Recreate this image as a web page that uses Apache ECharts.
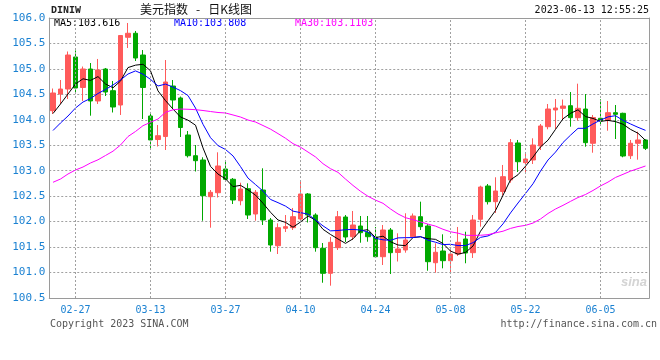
<!DOCTYPE html>
<html><head><meta charset="utf-8">
<script src="https://cdn.jsdelivr.net/npm/echarts@6/dist/echarts.min.js"></script>
<style>html,body{margin:0;padding:0;background:#fff}#c{width:660px;height:360px}</style>
</head><body><div id="c"></div>
<script>
const dates = ['2023-02-22','2023-02-23','2023-02-24','2023-02-27','2023-02-28','2023-03-01','2023-03-02','2023-03-03',
'2023-03-06','2023-03-07','2023-03-08','2023-03-09','2023-03-10','2023-03-13','2023-03-14','2023-03-15','2023-03-16','2023-03-17',
'2023-03-20','2023-03-21','2023-03-22','2023-03-23','2023-03-24','2023-03-27','2023-03-28','2023-03-29','2023-03-30','2023-03-31',
'2023-04-03','2023-04-04','2023-04-05','2023-04-06','2023-04-07','2023-04-10','2023-04-11','2023-04-12','2023-04-13','2023-04-14',
'2023-04-17','2023-04-18','2023-04-19','2023-04-20','2023-04-21','2023-04-24','2023-04-25','2023-04-26','2023-04-27','2023-04-28',
'2023-05-01','2023-05-02','2023-05-03','2023-05-04','2023-05-05','2023-05-08','2023-05-09','2023-05-10','2023-05-11','2023-05-12',
'2023-05-15','2023-05-16','2023-05-17','2023-05-18','2023-05-19','2023-05-22','2023-05-23','2023-05-24','2023-05-25','2023-05-26',
'2023-05-29','2023-05-30','2023-05-31','2023-06-01','2023-06-02','2023-06-05','2023-06-06','2023-06-07','2023-06-08','2023-06-09',
'2023-06-12','2023-06-13'];

const xTickLabels = ['02-27','03-13','03-27','04-10','04-24','05-08','05-22','06-05'];

const openVals = [104.179,104.507,104.605,105.234,104.635,104.998,104.37,104.998,104.572,104.291,
105.621,105.7,105.273,104.075,103.613,103.672,104.664,104.429,103.702,103.295,
103.211,102.49,102.568,103.034,102.832,102.411,102.647,102.15,102.621,102.032,
101.527,101.869,101.881,102.052,102.543,102.13,101.476,100.985,101.488,102.091,
101.704,101.914,101.787,101.698,101.311,101.836,101.394,101.443,101.704,102.097,
101.914,101.193,101.423,101.233,101.364,101.659,101.39,102.046,102.7,102.392,
102.592,102.818,103.545,103.158,103.211,103.486,103.865,104.193,104.226,104.277,
104.042,104.212,103.539,104.03,103.987,104.14,104.128,103.295,103.539,103.604];

const closeVals = [104.527,104.605,105.273,104.625,104.998,104.37,104.979,104.546,104.252,105.656,
105.7,105.214,104.635,103.604,103.688,104.743,104.389,103.849,103.295,103.197,
102.51,102.576,103.093,102.832,102.425,102.641,102.13,102.576,102.032,101.541,
101.881,101.901,102.097,102.543,102.13,101.488,100.985,101.594,102.097,101.698,
101.934,101.783,101.704,101.311,101.836,101.39,101.463,101.639,102.111,101.901,
101.213,101.398,101.233,101.364,101.594,101.384,102.032,102.68,102.392,102.602,
102.883,103.551,103.177,103.23,103.505,103.879,104.212,104.232,104.271,104.042,
104.226,103.551,104.046,103.983,104.14,104.108,103.289,103.539,103.604,103.44];

const lowVals = [104.114,104.311,104.409,104.527,104.37,104.081,104.311,104.468,104.144,104.095,
105.411,105.155,104.016,103.446,103.476,103.407,104.212,103.663,103.26,102.985,
102.018,101.881,102.474,102.798,102.346,102.321,102.052,102.018,101.934,101.41,
101.364,101.796,101.836,102.032,101.983,101.41,100.8,100.742,101.443,101.6,
101.639,101.586,101.606,101.286,101.148,100.971,101.217,101.39,101.698,101.836,
101.036,100.997,101.083,100.997,101.325,101.182,101.286,101.901,102.337,102.17,
102.51,102.765,102.975,102.955,103.132,103.407,103.814,103.82,104.016,103.865,
103.983,103.472,103.354,103.888,103.786,103.623,103.264,103.23,103.217,103.407];

const highVals = [104.615,104.782,105.342,105.362,105.047,105.116,105.195,105.018,104.763,105.666,
105.902,105.745,105.371,104.154,103.898,105.175,104.782,104.458,103.78,103.505,
103.264,102.621,103.362,103.211,102.857,102.765,102.753,102.621,103.048,102.071,
101.967,102.13,102.268,102.804,102.562,102.164,101.58,101.698,102.209,102.13,
102.209,102.111,102.111,101.895,101.934,101.875,101.771,102.164,102.16,102.392,
101.954,101.574,101.751,101.443,101.895,101.802,102.13,102.706,102.739,102.871,
103.113,103.623,103.604,103.362,103.637,103.918,104.311,104.409,104.399,104.546,
104.71,104.507,104.095,104.403,104.37,104.291,104.14,103.604,103.767,103.617];

const ma5 = [104.124,104.311,104.507,104.704,104.806,104.774,104.849,104.704,104.629,104.761,
105.026,105.074,105.091,104.962,104.568,104.377,104.212,104.055,103.993,103.895,
103.448,103.085,102.934,102.841,102.687,102.713,102.624,102.521,102.361,102.184,
102.032,101.986,101.89,101.993,102.11,102.032,101.849,101.748,101.659,101.573,
101.662,101.821,101.843,101.686,101.714,101.605,101.541,101.528,101.688,101.701,
101.665,101.652,101.571,101.422,101.36,101.395,101.521,101.811,102.016,102.218,
102.518,102.821,102.921,103.089,103.269,103.468,103.601,103.812,104.02,104.127,
104.197,104.064,104.027,103.969,103.989,103.965,103.913,103.812,103.736,103.596];

const ma10 = [103.79,103.938,104.075,104.232,104.35,104.419,104.517,104.596,104.684,104.783,
104.9,104.961,104.897,104.795,104.664,104.702,104.643,104.573,104.477,104.231,
103.912,103.649,103.494,103.417,103.291,103.081,102.855,102.728,102.601,102.436,
102.373,102.305,102.206,102.177,102.147,102.032,101.917,101.819,101.826,101.841,
101.847,101.835,101.796,101.672,101.643,101.633,101.681,101.685,101.687,101.707,
101.635,101.596,101.549,101.555,101.53,101.53,101.587,101.691,101.719,101.789,
101.956,102.171,102.366,102.553,102.744,102.993,103.211,103.366,103.554,103.698,
103.833,103.833,103.919,103.995,104.058,104.081,103.989,103.919,103.853,103.793];

const ma30 = [102.773,102.837,102.936,103.014,103.073,103.152,103.215,103.299,103.384,103.505,
103.672,103.771,103.885,103.951,104.016,104.148,104.197,104.212,104.207,104.199,
104.183,104.163,104.144,104.134,104.095,104.055,103.996,103.957,103.888,103.817,
103.729,103.638,103.532,103.463,103.367,103.271,103.138,103.04,102.968,102.836,
102.711,102.596,102.498,102.422,102.36,102.249,102.151,102.077,102.038,101.995,
101.951,101.912,101.85,101.801,101.774,101.732,101.729,101.732,101.744,101.779,
101.812,101.867,101.904,101.927,101.972,102.052,102.16,102.248,102.32,102.398,
102.474,102.533,102.612,102.701,102.777,102.868,102.929,102.992,103.042,103.093];

const legendTexts = ['MA5:103.616','MA10:103.808','MA30:103.1103'];

const candles = dates.map((d, i) => [openVals[i], closeVals[i], lowVals[i], highVals[i]]);
const showTick = (i, v) => xTickLabels.includes(String(v).slice(5));
const tickDates = dates.filter(d => xTickLabels.includes(d.slice(5)));

const mono = 'DejaVu Sans Mono';
const blueLbl = '#1c82d2';
const frame = '#9a9a9a';
const dotted = '#a0a0a0';

const chart = echarts.init(document.getElementById('c'), null, {renderer: 'canvas'});
chart.setOption({
  animation: false,
  backgroundColor: '#ffffff',
  grid: {left: 49.25, right: 10.75, top: 18, bottom: 62, show: false, containLabel: false, outerBoundsMode: 'none'},
  xAxis: [{
    type: 'category', data: dates, boundaryGap: true, position: 'bottom',
    axisLine: {show: true, lineStyle: {color: frame, width: 1}},
    axisTick: {show: false},
    axisLabel: {interval: showTick, formatter: v => v.slice(5), color: blueLbl, fontFamily: mono, fontSize: 10, margin: 7, hideOverlap: false},
    splitLine: {show: false}
  }, {
    type: 'category', data: dates, boundaryGap: true, position: 'top',
    axisLine: {show: true, lineStyle: {color: frame, width: 1}},
    axisTick: {show: false}, axisLabel: {show: false}, splitLine: {show: false}
  }],
  yAxis: [{
    type: 'value', min: 100.5, max: 106, interval: 0.5, scale: true, position: 'left',
    axisLine: {show: true, lineStyle: {color: frame, width: 1}},
    axisTick: {show: false},
    axisLabel: {formatter: v => v.toFixed(1), color: blueLbl, fontFamily: mono, fontSize: 11, margin: 4},
    splitLine: {show: true, lineStyle: {color: dotted, width: 1, type: [2, 2]}}
  }, {
    type: 'value', min: 100.5, max: 106, interval: 0.5, position: 'right',
    axisLine: {show: true, lineStyle: {color: frame, width: 1}},
    axisTick: {show: false}, axisLabel: {show: false}, splitLine: {show: false}
  }],
  series: [
    {type: 'candlestick', data: candles, barWidth: 5,
     itemStyle: {color: '#ff5a5a', color0: '#00a800', borderColor: '#ff5a5a', borderColor0: '#00a800', borderWidth: 1},
     emphasis: {disabled: true}, z: 3},
    {type: 'line', data: ma5, symbol: 'none', lineStyle: {color: '#000000', width: 1}, z: 4, emphasis: {disabled: true}},
    {type: 'line', data: ma10, symbol: 'none', lineStyle: {color: '#0000ff', width: 1}, z: 4, emphasis: {disabled: true}},
    {type: 'line', data: ma30, symbol: 'none', lineStyle: {color: '#ff00ff', width: 1}, z: 4, emphasis: {disabled: true},
     markLine: {silent: true, symbol: ['none', 'none'], label: {show: false}, animation: false,
       lineStyle: {color: dotted, width: 1, type: [2, 2]},
       data: tickDates.map(d => ({xAxis: d}))}}
  ],
  graphic: [
    {type: 'text', left: 51, top: 5, style: {text: 'DINIW', font: 'bold 10px "Liberation Mono"', fill: '#222'}},
    {type: 'text', left: 140, top: 3, style: {text: '美元指数   -   日K线图', font: '12px "Noto Sans CJK SC"', fill: '#111'}},
    {type: 'text', right: 11, top: 5, style: {text: '2023-06-13 12:55:25', font: '10px "DejaVu Sans Mono"', fill: '#111'}},
    {type: 'text', left: 54, top: 18, style: {text: legendTexts[0], font: '10px "DejaVu Sans Mono"', fill: '#000'}},
    {type: 'text', left: 174, top: 18, style: {text: legendTexts[1], font: '10px "DejaVu Sans Mono"', fill: '#0000ff'}},
    {type: 'text', left: 295, top: 18, style: {text: legendTexts[2], font: '10px "DejaVu Sans Mono"', fill: '#ff00ff'}},
    {type: 'text', left: 50, top: 319, style: {text: 'Copyright 2023 SINA.COM', font: '10px "DejaVu Sans Mono"', fill: '#555'}},
    {type: 'text', right: 3, top: 319, style: {text: 'http://finance.sina.com.cn', font: '10px "DejaVu Sans Mono"', fill: '#555'}},
    {type: 'text', left: 621, top: 276, style: {text: 'sina', font: 'italic bold 13px "Liberation Sans"', fill: '#d4d4d4'}}
  ]
});
</script></body></html>
